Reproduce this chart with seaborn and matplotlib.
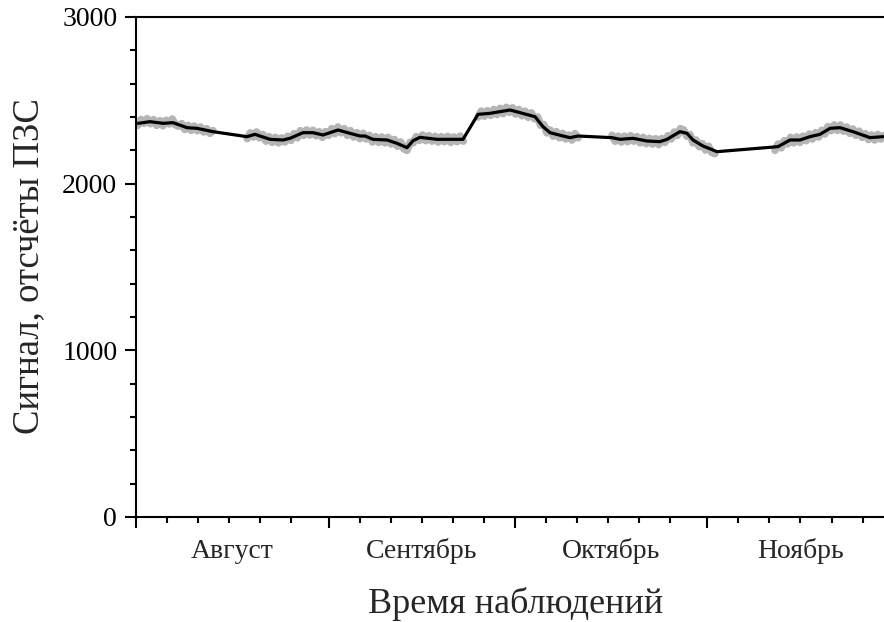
import numpy as np
import pandas as pd
import matplotlib
matplotlib.use('Agg')
import matplotlib.pyplot as plt
import matplotlib.transforms as mtransforms
from matplotlib.ticker import MultipleLocator, FixedLocator, NullFormatter
import seaborn as sns

# ---------------- data ----------------
months = ['Август', 'Сентябрь', 'Октябрь', 'Ноябрь']
month_start = [0, 31, 61, 92]          # days from 1 August
month_len = [31, 30, 31, 30]
minor_offsets = [5, 10, 15, 20, 25]

y_ticks = [0, 1000, 2000, 3000]

# smoothed signal (black line)
smooth_day = [0.37, 2.25, 4.35, 5.96, 8.21, 9.82, 12.40, 17.87, 19.16, 21.58,
              23.67, 24.80, 26.89, 28.50, 30.11, 32.53, 34.46, 36.07, 36.88, 38.16,
              40.42, 42.03, 43.64, 44.61, 45.73, 48.47, 52.66, 55.07, 57.00, 58.62,
              60.23, 61.84, 64.25, 65.54, 66.67, 68.76, 69.89, 71.18, 76.65, 77.94,
              80.03, 82.29, 84.38, 85.51, 87.60, 88.73, 89.69, 91.30, 93.56, 103.38,
              105.31, 106.92, 108.53, 110.14, 111.76, 113.37, 115.46, 118.20, 120.29]
smooth_signal = [2362, 2372, 2362, 2366, 2336, 2332, 2312, 2282, 2296, 2266,
                 2262, 2272, 2306, 2306, 2292, 2322, 2302, 2286, 2286, 2266,
                 2262, 2242, 2216, 2258, 2278, 2266, 2266, 2416, 2422, 2432,
                 2442, 2426, 2402, 2342, 2306, 2286, 2276, 2286, 2276, 2266,
                 2272, 2256, 2252, 2266, 2312, 2302, 2262, 2226, 2192, 2222,
                 2262, 2262, 2282, 2296, 2332, 2336, 2312, 2276, 2282]

# raw measurements (grey), observation sessions: first/last day and readings
session_bounds = [(0.3, 12.4), (17.9, 52.7), (55.1, 71.2), (76.65, 93.2), (102.9, 120.45)]
raw_session_1 = [2350, 2385, 2362, 2390, 2360, 2384, 2350, 2378, 2348, 2380,
                 2358, 2388, 2352, 2345, 2360, 2325, 2350, 2320, 2346, 2318,
                 2340, 2310, 2330, 2302, 2318]
raw_session_2 = [2270, 2305, 2280, 2310, 2275, 2295, 2255, 2282, 2248, 2278,
                 2245, 2275, 2250, 2285, 2260, 2300, 2275, 2318, 2290, 2322,
                 2292, 2320, 2288, 2312, 2278, 2312, 2290, 2330, 2300, 2340,
                 2305, 2330, 2290, 2318, 2280, 2306, 2270, 2302, 2268, 2290,
                 2250, 2282, 2248, 2280, 2245, 2278, 2238, 2265, 2225, 2250,
                 2210, 2200, 2248, 2245, 2282, 2260, 2292, 2258, 2288, 2255,
                 2284, 2250, 2282, 2252, 2284, 2248, 2280, 2252, 2285, 2255]
raw_session_3 = [2400, 2435, 2405, 2438, 2410, 2445, 2415, 2452, 2420, 2458,
                 2428, 2455, 2418, 2445, 2408, 2435, 2398, 2425, 2390, 2400,
                 2350, 2355, 2305, 2322, 2285, 2312, 2275, 2302, 2268, 2292,
                 2262, 2300, 2275]
raw_session_4 = [2290, 2255, 2285, 2250, 2285, 2252, 2288, 2255, 2282, 2245,
                 2278, 2240, 2272, 2238, 2270, 2235, 2270, 2248, 2288, 2268,
                 2310, 2290, 2330, 2322, 2285, 2295, 2245, 2262, 2222, 2240,
                 2202, 2225, 2188, 2180]
raw_session_5 = [2200, 2238, 2215, 2258, 2238, 2278, 2245, 2280, 2248, 2285,
                 2258, 2298, 2268, 2306, 2280, 2320, 2298, 2342, 2318, 2352,
                 2320, 2352, 2315, 2340, 2302, 2328, 2290, 2315, 2278, 2300,
                 2265, 2292, 2262, 2295, 2268, 2290]
raw_sessions = [raw_session_1, raw_session_2, raw_session_3, raw_session_4, raw_session_5]

rows = []
for k, (bounds, vals) in enumerate(zip(session_bounds, raw_sessions)):
    days = np.linspace(bounds[0], bounds[1], len(vals))
    for d, v in zip(days, vals):
        rows.append({'day': d, 'signal': v, 'session': k})
raw_df = pd.DataFrame(rows)

# ---------------- style ----------------
sns.set_style('ticks')
plt.rcParams['font.family'] = ['Liberation Serif', 'DejaVu Serif']

W, H = 884, 622
fig = plt.figure(figsize=(W / 100, H / 100), dpi=100)
ax = fig.add_axes([136 / W, 105 / H, 748 / W, 500 / H])

sns.lineplot(data=raw_df, x='day', y='signal', units='session', estimator=None,
             color='#b5b5b5', lw=5.5, ax=ax, legend=False)
sns.lineplot(x=smooth_day, y=smooth_signal, color='black', lw=2.3, ax=ax,
             legend=False)

ax.set_xlim(0, 120.45)
ax.set_ylim(0, 3000)

ax.yaxis.set_major_locator(FixedLocator(y_ticks))
ax.yaxis.set_minor_locator(MultipleLocator(200))
ax.xaxis.set_major_locator(FixedLocator(month_start))
ax.xaxis.set_minor_locator(FixedLocator([s + o for s in month_start for o in minor_offsets]))
ax.xaxis.set_major_formatter(NullFormatter())

for side in ['left', 'bottom', 'top']:
    ax.spines[side].set_linewidth(1.5)
    ax.spines[side].set_color('black')
ax.spines['right'].set_visible(False)

ax.tick_params(axis='both', which='major', direction='out', length=8, width=1.5,
               colors='black', labelsize=20, pad=5.5)
ax.tick_params(axis='both', which='minor', direction='out', length=4.5, width=1.5,
               colors='black')
ax.tick_params(axis='x', which='both', top=False)
ax.tick_params(axis='y', which='both', right=False)

trans = mtransforms.blended_transform_factory(ax.transData, ax.transAxes)
for name, s, L in zip(months, month_start, month_len):
    ax.text(s + L / 2, -0.082, name, transform=trans, ha='center', va='baseline',
            fontsize=20)

ax.set_xlabel('Время наблюдений', fontsize=26)
ax.xaxis.label.set_va('baseline')
ax.xaxis.set_label_coords(0.508, -0.192)

ax.set_ylabel('Сигнал, отсчёты ПЗС', fontsize=26.5)
ax.yaxis.label.set_va('baseline')
ax.yaxis.set_label_coords(-0.1303, 0.502)

fig.savefig('out.png', dpi=100)
